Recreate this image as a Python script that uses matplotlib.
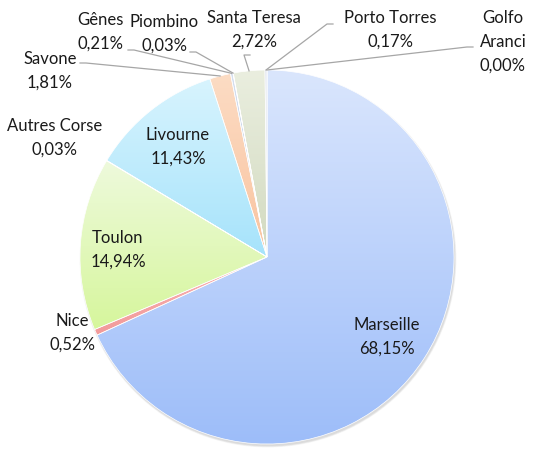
import numpy as np
import matplotlib.pyplot as plt
import matplotlib.colors as mcolors

plt.rcParams['font.family'] = ['Lato', 'DejaVu Sans']

# Data
ports = ["Marseille", "Nice", "Toulon", "Autres Corse", "Livourne", "Savone",
         "Gênes", "Piombino", "Santa Teresa", "Porto Torres", "Golfo Aranci"]
shares = [68.15, 0.52, 14.94, 0.03, 11.43, 1.81, 0.21, 0.03, 2.72, 0.17, 0.00]
pct_labels = ["68,15%", "0,52%", "14,94%", "0,03%", "11,43%", "1,81%",
              "0,21%", "0,03%", "2,72%", "0,17%", "0,00%"]

# slice colours (top, bottom of vertical gradient)
grad_colors = [("#dae6fd", "#9dbdf9"), ("#f9b4b4", "#f29a9a"), ("#eefadc", "#d6f69c"),
               ("#f0f0f0", "#d8d8d8"), ("#d8f4fe", "#a6e3fb"), ("#fcdcc4", "#f9c39f"),
               ("#d6dff0", "#b8c6e0"), ("#e4e4e4", "#cccccc"), ("#eaeedf", "#d2dac0"),
               ("#c9d2e4", "#aab8d2"), ("#dddddd", "#cccccc")]

W, H = 533, 450
cx, cy, R = 267, H - 257, 187

fig = plt.figure(figsize=(W / 100, H / 100), dpi=100)
ax = fig.add_axes([0, 0, 1, 1])
ax.set_aspect('equal')

# soft shadow
for k in range(6):
    ax.add_patch(plt.Circle((cx + 1, cy - 2), R + 1.5 - k * 0.3, color='#000000',
                            alpha=0.025, lw=0, zorder=0))

wedges, _ = ax.pie(shares, startangle=90, counterclock=False, center=(cx, cy),
                   radius=R, colors=[c[1] for c in grad_colors],
                   wedgeprops=dict(edgecolor='white', linewidth=0.5),
                   frame=True)

# vertical gradient fill clipped to each wedge
for w, (top, bot) in zip(wedges, grad_colors):
    ext = w.get_path().get_extents()
    if ext.y1 - ext.y0 < 1:
        continue
    cmap = mcolors.LinearSegmentedColormap.from_list("g", [bot, top])
    grad = np.linspace(0, 1, 256).reshape(-1, 1)
    im = ax.imshow(grad, cmap=cmap, origin='lower', aspect='auto',
                   extent=(ext.x0, ext.x1, ext.y0, ext.y1), zorder=w.get_zorder())
    im.set_clip_path(w)
    w.set_facecolor('none')
    w.set_zorder(w.get_zorder() + 0.1)

ax.set_xlim(0, W)
ax.set_ylim(0, H)
ax.axis('off')

txt = dict(fontsize=12, color='#1a1a1a', linespacing=1.6)
line_kw = dict(color='#a6a6a6', lw=0.9)


def edge_point(w):
    a = np.deg2rad((w.theta1 + w.theta2) / 2)
    return cx + R * np.cos(a), cy + R * np.sin(a)


# labels inside the big slices
inside = {0: (387, 337), 2: (118, 250), 4: (178, 147)}
for i, (x, y) in inside.items():
    ax.text(x, H - y, f"{ports[i]}\n{pct_labels[i]}", ha='center', va='center', **txt)

# outside labels with leader lines: text centre, line start
outside = {
    1: ((72, 333), None),
    3: ((55, 138), None),
    5: ((50, 71), (80, 63)),
    6: ((100, 32), (128, 50)),
    7: ((164, 34), (190, 52)),
    8: ((254, 30), (250, 55)),
    9: ((390, 30), (333, 24)),
    10: ((503, 42), (473, 47)),
}
for i, ((x, y), start) in outside.items():
    label = f"{ports[i]}\n{pct_labels[i]}"
    if ports[i] == "Golfo Aranci":
        label = f"Golfo\nAranci\n{pct_labels[i]}"
    ax.text(x, H - y, label, ha='center', va='center', multialignment='center', **txt)
    if start is not None:
        ex, ey = edge_point(wedges[i])
        sx, sy = start
        ax.plot([sx, sx + (6 if sx < ex else -6), ex], [H - sy, H - sy, ey],
                zorder=5, **line_kw)

fig.savefig("out.png", dpi=100)
